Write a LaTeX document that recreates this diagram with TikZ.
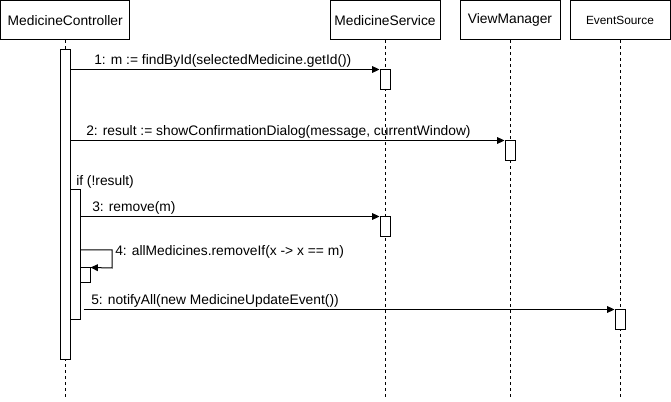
\documentclass[tikz,border=0pt]{standalone}
\usepackage{fontspec}
\setmainfont{Liberation Sans}
\usetikzlibrary{arrows.meta}
\begin{document}
\begin{tikzpicture}[x=0.75pt,y=-0.75pt,
  every node/.style={font=\fontsize{10.35}{12}\selectfont},
  header/.style={draw,line width=0.75pt,minimum width=75pt,minimum height=29.6pt,inner sep=0pt},
  smallhdr/.style={header,font=\fontsize{8.9}{11}\selectfont},
  life/.style={line width=0.75pt,dash pattern=on 2.25pt off 2.25pt},
  act/.style={draw,fill=white,line width=0.75pt,minimum width=7.5pt,inner sep=0pt},
  msg/.style={line width=0.75pt,-{Triangle[length=5.5pt,width=5pt]}},
  lbl/.style={anchor=west,inner sep=0pt}]
\useasboundingbox (0,0) rectangle (671,402);
% headers
\node[header,minimum width=96.75pt] (hC) at (65.25,20.25) {MedicineController};
\node[header,minimum width=82.5pt] (hS) at (385,20.25) {MedicineService};
\node[header] (hV) at (510,20.25) {ViewManager};
\node[smallhdr] (hE) at (620,20.25) {EventSource};
% lifeline ends
\coordinate (eC) at (65,400);
\coordinate (eS) at (385,400);
\coordinate (eV) at (510,400);
\coordinate (eE) at (620,400);
\draw[life] (hC.south -| eC) -- (eC);
\draw[life] (hS.south) -- (eS);
\draw[life] (hV.south) -- (eV);
\draw[life] (hE.south) -- (eE);
% activations
\node[act,minimum height=232.5pt] (A0) at (65,205) {};
\node[act,minimum height=15pt] (S1) at (385,80) {};
\node[act,minimum height=15pt] (V1) at (510,151) {};
\node[act,minimum height=15pt] (S2) at (385,227) {};
\node[act,minimum height=97.5pt] (A1) at (75,255) {};
\node[act,minimum height=11.25pt] (A2) at (85,275.5) {};
\node[act,minimum height=15pt] (E1) at (620,320) {};
% messages
\draw[msg] (A0.east |- S1.north) -- (S1.north west);
\node[lbl] (l1) at (94,61) {1: m := findById(selectedMedicine.getId())};
\draw[msg] (A0.east |- V1.north) -- (V1.north west);
\node[lbl] (l2) at (86,132) {2: result := showConfirmationDialog(message, currentWindow)};
\node[lbl] (lif) at (76,182) {if (!result)};
\draw[msg] (A1.east |- S2.north) -- (S2.north west);
\node[lbl] (l3) at (92,208) {3: remove(m)};
\coordinate (s4a) at (112,250);
\coordinate (s4b) at (112,268);
\draw[msg] (A1.east |- s4a) -- (s4a) -- (s4b) -- (A2.north east);
\node[lbl] (l4) at (115,252) {4: allMedicines.removeIf(x -> x == m)};
\draw[msg] ([xshift=2.25pt]A1.east |- E1.north) -- (E1.north west);
\node[lbl] (l5) at (91,301) {5: notifyAll(new MedicineUpdateEvent())};
\end{tikzpicture}
\end{document}
